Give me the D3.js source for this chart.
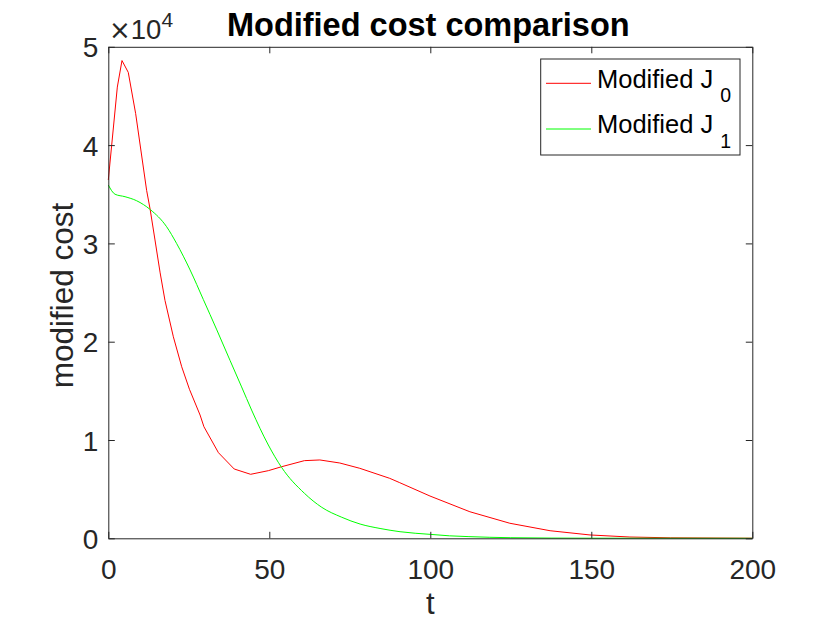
<!DOCTYPE html>
<html>
<head>
<meta charset="utf-8">
<script src="https://cdn.jsdelivr.net/npm/d3@7"></script>
<style>
  body { margin: 0; background: #fff; }
  svg { font-family: 'Liberation Sans', Arial, sans-serif; }
  .axis path, .axis line { stroke: #262626; }
  .axis text { fill: #262626; font-size: 28px; }
</style>
</head>
<body>
<script>
// chart params
const svgW = 830;
const svgH = 623;
const plot = { left: 108.3, right: 752.3, top: 46.8, bottom: 538.3 };

// data (cost values)
const redT = [0, 2.8, 4.25, 6.2, 8.5, 11.9, 13, 14.5, 16.1, 17.6, 20.2, 22.8, 25.2, 28.5, 29.7,
  34.2, 39.1, 44.2, 49.7, 53.8, 60.9, 65.7, 71.9, 78.1, 87.4, 90.5, 99.9, 112.3, 124.7,
  137.2, 149.6, 162, 174.5, 200];
const redJ = [36450, 45900, 48600, 47400, 43200, 35400, 33450, 30350, 27000, 24200, 20500,
  17450, 15160, 12540, 11350, 8710, 7050, 6510, 6880, 7280, 7900, 7970, 7660, 7120, 6100,
  5660, 4300, 2700, 1530, 770, 340, 130, 50, 10];
const greenT = [0, 2.1, 5.2, 8.8, 13, 18.1, 21.2, 25.4, 29.5, 33.7, 37.8, 41.4, 44.5, 49.7,
  53.8, 60.9, 66.3, 72.5, 78.2, 84.4, 90.6, 100, 106, 112, 125, 150, 200];
const greenJ = [35940, 35000, 34750, 34340, 33450, 31700, 30000, 27300, 24300, 21200, 18100,
  15400, 13050, 9490, 7220, 4580, 3150, 2140, 1450, 1000, 670, 400, 250, 170, 60, 10, 0];

const xTicks = [0, 50, 100, 150, 200];
const yTicks = [0, 10000, 20000, 30000, 40000, 50000];

const series = [
  { label: 'Modified J ', sub: '0', color: '#ff0000', t: redT, v: redJ, curve: d3.curveLinear },
  { label: 'Modified J ', sub: '1', color: '#00ff00', t: greenT, v: greenJ, curve: d3.curveMonotoneX }
];

const svg = d3.select('body').append('svg').attr('width', svgW).attr('height', svgH);

const x = d3.scaleLinear().domain([0, 200]).range([plot.left, plot.right]);
const y = d3.scaleLinear().domain([0, 50000]).range([plot.bottom, plot.top]);

/*
  lines
*/
series.forEach((s) => {
  const line = d3.line().x((d) => x(d[0])).y((d) => y(d[1])).curve(s.curve);
  svg
    .append('path')
    .datum(s.t.map((t, i) => [t, s.v[i]]))
    .attr('d', line)
    .attr('fill', 'none')
    .attr('stroke', s.color)
    .attr('stroke-width', 1);
});

/*
  axes (box with inward ticks on all sides)
*/
const tickLen = 6.5;
svg
  .append('g')
  .attr('class', 'axis')
  .attr('transform', 'translate(0,' + plot.bottom + ')')
  .call(d3.axisBottom(x).tickValues(xTicks).tickSize(-tickLen).tickPadding(14).tickSizeOuter(0))
  .call((g) => g.selectAll('text').attr('dy', '0.95em'));
svg
  .append('g')
  .attr('class', 'axis')
  .attr('transform', 'translate(0,' + plot.top + ')')
  .call(d3.axisTop(x).tickValues(xTicks).tickSize(-tickLen).tickFormat('').tickSizeOuter(0));
svg
  .append('g')
  .attr('class', 'axis')
  .attr('transform', 'translate(' + plot.left + ',0)')
  .call(d3.axisLeft(y).tickValues(yTicks).tickSize(-tickLen).tickPadding(10)
    .tickFormat((d) => d / 10000).tickSizeOuter(0))
  .call((g) => g.selectAll('text').attr('dy', '0.36em'));
svg
  .append('g')
  .attr('class', 'axis')
  .attr('transform', 'translate(' + plot.right + ',0)')
  .call(d3.axisRight(y).tickValues(yTicks).tickSize(-tickLen).tickFormat('').tickSizeOuter(0));

svg.selectAll('.axis path').attr('stroke-width', 1);
svg.selectAll('.axis line').attr('stroke-width', 1);

// exponent label
const expo = svg.append('text').attr('x', 109).attr('y', 39.3).attr('fill', '#262626').attr('font-size', 27.5);
expo.append('tspan').attr('font-family', 'DejaVu Sans').attr('font-size', 26).text('\u00d7');
expo.append('tspan').text('10');
expo.append('tspan').attr('dy', -12.6).attr('font-size', 21).text('4');

/*
  labels
*/
svg
  .append('text')
  .attr('x', (plot.left + plot.right) / 2 - 2)
  .attr('y', 36)
  .attr('text-anchor', 'middle')
  .attr('font-size', 32.5)
  .attr('font-weight', 'bold')
  .attr('fill', '#000')
  .text('Modified cost comparison');

svg
  .append('text')
  .attr('x', (plot.left + plot.right) / 2)
  .attr('y', 614)
  .attr('text-anchor', 'middle')
  .attr('font-size', 31)
  .attr('fill', '#262626')
  .text('t');

svg
  .append('text')
  .attr('transform', 'translate(72.5,' + ((plot.top + plot.bottom) / 2 + 3) + ') rotate(-90)')
  .attr('text-anchor', 'middle')
  .attr('font-size', 31.5)
  .attr('fill', '#262626')
  .text('modified cost');

/*
  legend
*/
const legend = svg.append('g');
legend
  .append('rect')
  .attr('x', 540.7)
  .attr('y', 59)
  .attr('width', 199.3)
  .attr('height', 96)
  .attr('fill', '#fff')
  .attr('stroke', '#262626')
  .attr('stroke-width', 1);

series.forEach((s, i) => {
  const ly = 83.3 + i * 45.7;
  legend
    .append('line')
    .attr('x1', 546)
    .attr('x2', 591)
    .attr('y1', ly)
    .attr('y2', ly)
    .attr('stroke', s.color)
    .attr('stroke-width', 1);
  const t = legend
    .append('text')
    .attr('x', 597)
    .attr('y', ly + 4.4)
    .attr('font-size', 25.5)
    .attr('fill', '#000');
  t.append('tspan').text(s.label);
  t.append('tspan').attr('dy', 14.6).attr('font-size', 19.5).text(s.sub);
});
</script>
</body>
</html>
